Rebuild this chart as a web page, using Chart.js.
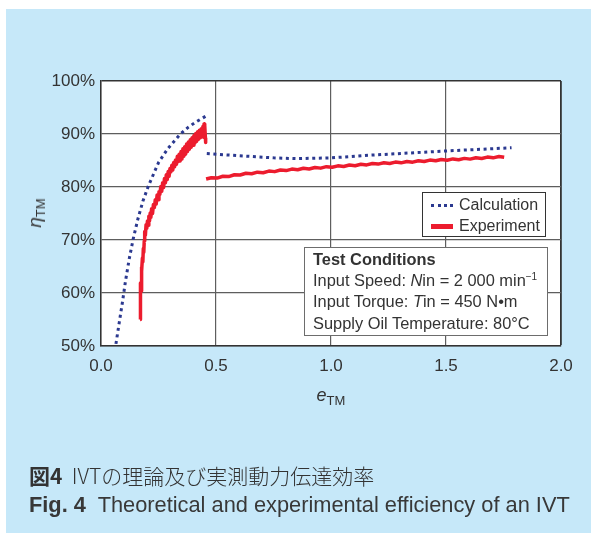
<!DOCTYPE html>
<html>
<head>
<meta charset="utf-8">
<script src="https://cdn.jsdelivr.net/npm/chart.js@4/dist/chart.umd.min.js"></script>
<style>
  body { margin: 0; background: #fff; width: 591px; height: 533px; overflow: hidden; position: relative; font-family: 'Liberation Sans', Arial, sans-serif; color: #333; }
  #bg { position: absolute; left: 6px; top: 9px; width: 585px; height: 524px; background: #c6e8f9; }
  #c { position: absolute; left: 0; top: 0; }
  .abs { position: absolute; white-space: nowrap; }
  #xTitle { left: 331px; top: 395px; transform: translate(-50%, -50%); font-size: 18px; }
  #yTitle { left: 35px; top: 213px; transform: translate(-50%, -50%) rotate(-90deg); font-size: 19px; }
  sub { font-size: 13px; font-style: normal; vertical-align: -4px; line-height: 0; }
  sup { font-size: 10px; vertical-align: 6px; line-height: 0; }
  #legend { left: 422px; top: 192px; width: 122px; height: 43px; background: #fff; border: 1.5px solid #333; font-size: 16px; }
  .item { position: absolute; left: 8px; height: 20px; line-height: 20px; }
  .swatch { position: absolute; left: 0; width: 22px; }
  .item span.lbl { position: absolute; left: 28px; top: 0; }
  #cond { left: 304px; top: 247px; width: 234px; height: 86px; background: #fff; border: 1.5px solid #6d6d6d; font-size: 16.4px; padding: 1px 0 0 8px; line-height: 21.2px; }
  #cap1 { left: 29px; top: 475px; transform: translateY(-50%); font-family: 'Noto Sans CJK JP', sans-serif; font-weight: 300; font-size: 21px; }
  #cap2 { left: 29px; top: 505px; transform: translateY(-50%); font-size: 21.8px; color: #383838; }
  b { font-weight: bold; }
</style>
</head>
<body>
<div id="bg"></div>
<canvas id="c" width="591" height="533"></canvas>
<div id="xTitle" class="abs"><i>e</i><sub>TM</sub></div>
<div id="yTitle" class="abs"><i>η</i><sub>TM</sub></div>
<div id="legend" class="abs"></div>
<div id="cond" class="abs"><b>Test Conditions</b><br>Input Speed: <i>N</i>in = 2 000 min<sup>−1</sup><br>Input Torque: <i>T</i>in = 450 N•m<br>Supply Oil Temperature: 80°C</div>
<div id="cap1" class="abs"><b>図4</b>&nbsp; IVTの理論及び実測動力伝達効率</div>
<div id="cap2" class="abs"><b>Fig. 4</b>&nbsp; Theoretical and experimental efficiency of an IVT</div>
<script>
const xTicks = [0, 0.5, 1.0, 1.5, 2.0];
const yTicks = [50, 60, 70, 80, 90, 100];

// Calculation (null = break between the two branches)
const calcX = [0.065, 0.08, 0.093, 0.107, 0.123, 0.14, 0.16, 0.182, 0.206, 0.23, 0.25, 0.29, 0.345, 0.38, 0.41, 0.457,
  0.459,
  0.46, 0.6, 0.75, 0.85, 1.0, 1.17, 1.5, 1.785];
const calcY = [50.4, 54.6, 58.2, 62.4, 66.5, 70.2, 73.9, 77.3, 80.2, 82.6, 84.6, 87.2, 90.0, 91.3, 92.2, 93.4,
  null,
  86.3, 85.9, 85.5, 85.35, 85.5, 86.0, 86.8, 87.4];

// Experiment (noisy measured trace)
const expX = [0.170, 0.1705, 0.171, 0.1715, 0.172, 0.173, 0.174, 0.175, 0.176, 0.177, 0.178, 0.180, 0.182, 0.184,
  0.186, 0.188, 0.190, 0.193, 0.196, 0.199, 0.202, 0.205, 0.208, 0.211, 0.214, 0.217, 0.220, 0.224, 0.228,
  0.232, 0.236, 0.240, 0.244, 0.248, 0.252, 0.256, 0.260, 0.264, 0.268, 0.272, 0.276, 0.280, 0.284, 0.288,
  0.292, 0.296, 0.300, 0.304, 0.308, 0.312, 0.316, 0.320, 0.324, 0.328, 0.332, 0.336, 0.340, 0.344, 0.348,
  0.352, 0.356, 0.360, 0.364, 0.368, 0.372, 0.376, 0.380, 0.384, 0.388, 0.392, 0.396, 0.400, 0.404, 0.408,
  0.412, 0.416, 0.420, 0.424, 0.428, 0.432, 0.436, 0.440, 0.443, 0.446, 0.448, 0.450, 0.452, 0.454, 0.455,
  0.456,
  0.457, 0.48, 0.505, 0.53, 0.555, 0.58, 0.605, 0.63, 0.655, 0.68, 0.705, 0.73, 0.755, 0.78, 0.805, 0.83,
  0.855, 0.88, 0.905, 0.93, 0.955, 0.98, 1.005, 1.03, 1.055, 1.08, 1.105, 1.13, 1.155, 1.18, 1.205, 1.23,
  1.255, 1.28, 1.305, 1.33, 1.355, 1.38, 1.405, 1.43, 1.455, 1.48, 1.505, 1.53, 1.555, 1.58, 1.605, 1.63,
  1.655, 1.68, 1.705, 1.73, 1.753];
const expY = [55.0, 57.5, 56.2, 59.8, 58.6, 61.9, 60.4, 63.6, 62.8, 64.9, 64.1, 66.6, 65.9, 68.4,
  67.7, 69.8, 71.6, 70.9, 72.9, 72.2, 73.6, 72.8, 74.5, 73.6, 75.1, 74.3, 75.9, 75.0, 76.7,
  76.1, 77.6, 76.8, 78.5, 77.6, 79.1, 78.6, 80.1, 79.2, 80.8, 79.9, 81.6, 80.8, 82.3, 81.4,
  82.9, 82.0, 83.5, 82.9, 84.1, 83.2, 84.6, 83.8, 85.1, 84.3, 85.8, 84.8, 86.2, 84.9, 86.7,
  85.3, 87.2, 85.8, 87.6, 86.2, 88.1, 86.7, 88.5, 87.1, 88.9, 87.5, 89.3, 87.9, 89.7, 88.3,
  90.1, 88.6, 90.4, 89.0, 90.7, 89.3, 91.0, 89.5, 91.4, 89.4, 91.9, 90.0, 91.6, 89.2, 88.4,
  null,
  81.5, 81.75, 81.68, 82.02, 81.97, 82.31, 82.26, 82.6, 82.5, 82.8, 82.7, 83.0, 82.9, 83.2, 83.1, 83.38,
  83.25, 83.53, 83.41, 83.68, 83.56, 83.84, 83.72, 83.99, 83.87, 84.14, 84.02, 84.29, 84.17, 84.44, 84.32, 84.57,
  84.44, 84.7, 84.56, 84.82, 84.69, 84.95, 84.81, 85.08, 84.94, 85.2, 85.06, 85.3, 85.15, 85.4, 85.26, 85.51,
  85.37, 85.64, 85.5, 85.75, 85.6];

const toPoints = (xs, ys) => xs.map((x, i) => ({ x: x, y: ys[i] }));
const FONT = 'Liberation Sans';

const plotBg = {
  id: 'plotBg',
  beforeDraw(chart) {
    const a = chart.chartArea, c = chart.ctx;
    c.save();
    c.fillStyle = '#fff';
    c.fillRect(a.left, a.top, a.right - a.left, a.bottom - a.top);
    c.restore();
  }
};

const chart = new Chart(document.getElementById('c').getContext('2d'), {
  type: 'scatter',
  data: {
    datasets: [{
      label: 'Calculation',
      data: toPoints(calcX, calcY),
      showLine: true,
      spanGaps: false,
      borderColor: '#2b3990',
      borderWidth: 3,
      borderDash: [3, 3.6],
      borderCapStyle: 'butt',
      tension: 0,
      pointRadius: 0
    }, {
      label: 'Experiment',
      data: toPoints(expX, expY),
      showLine: true,
      spanGaps: false,
      borderColor: '#ec1c2e',
      borderWidth: 3.5,
      borderJoinStyle: 'round',
      pointRadius: 0
    }]
  },
  options: {
    responsive: false,
    animation: false,
    devicePixelRatio: 1,
    layout: { padding: { top: 81, right: 30, bottom: 157, left: 0 } },
    plugins: { legend: { display: false }, tooltip: { enabled: false } },
    scales: {
      x: {
        type: 'linear', min: 0, max: 2,
        afterBuildTicks: s => { s.ticks = xTicks.map(v => ({ value: v })); },
        afterFit: s => { s.height = 30; },
        ticks: { callback: v => v.toFixed(1), color: '#333', padding: 10, font: { family: FONT, size: 17 } },
        grid: { color: c => c.tick && c.tick.value === 2 ? '#333' : '#5e5e5e', lineWidth: c => c.tick && c.tick.value === 2 ? 1.8 : 1.2, drawTicks: false },
        border: { color: '#333', width: 1.5 }
      },
      y: {
        min: 50, max: 100,
        afterBuildTicks: s => { s.ticks = yTicks.map(v => ({ value: v })); },
        afterFit: s => { s.width = 101; },
        ticks: { callback: v => v + '%', color: '#333', padding: 6, font: { family: FONT, size: 17 } },
        grid: { color: c => c.tick && c.tick.value === 100 ? '#333' : '#5e5e5e', lineWidth: c => c.tick && c.tick.value === 100 ? 1.5 : 1.2, drawTicks: false },
        border: { color: '#333', width: 1.5 }
      }
    }
  },
  plugins: [plotBg]
});

// legend built from the datasets
const legend = document.getElementById('legend');
chart.data.datasets.forEach((ds, i) => {
  const item = document.createElement('div');
  item.className = 'item';
  item.style.top = (2 + i * 21) + 'px';
  const sw = document.createElement('span');
  sw.className = 'swatch';
  if (ds.borderDash) {
    sw.style.top = '9px';
    sw.style.borderTop = '3px dotted ' + ds.borderColor;
  } else {
    sw.style.top = '8px';
    sw.style.height = '5px';
    sw.style.background = ds.borderColor;
  }
  const lbl = document.createElement('span');
  lbl.className = 'lbl';
  lbl.textContent = ds.label;
  item.appendChild(sw);
  item.appendChild(lbl);
  legend.appendChild(item);
});
</script>
</body>
</html>
